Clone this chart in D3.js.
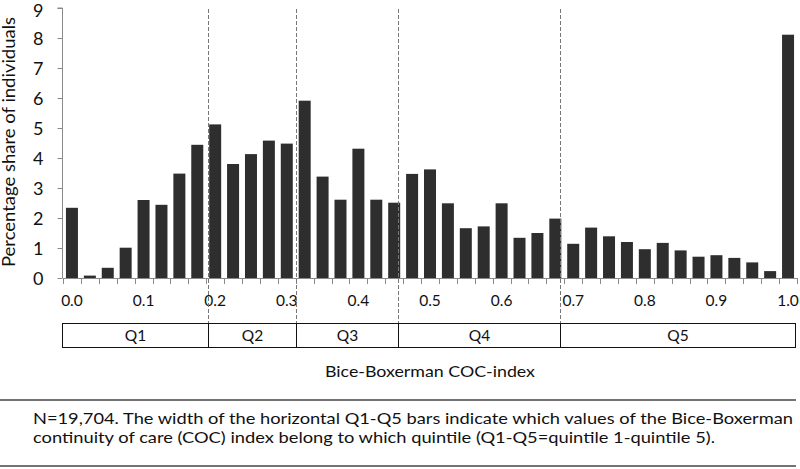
<!DOCTYPE html>
<html>
<head>
<meta charset="utf-8">
<script src="https://cdn.jsdelivr.net/npm/d3@7"></script>
<style>
  body { margin: 0; background: #fff; }
  svg { display: block; font-family: Lato, "Open Sans", sans-serif; }
</style>
</head>
<body>
<svg id="chart" width="800" height="469"></svg>
<script>
// ---- data ----
const categories = d3.range(41).map(i => +(i * 0.025).toFixed(3)); // COC-index bins 0.000 .. 1.000
const shares = [2.34, 0.08, 0.34, 1.01, 2.60, 2.44, 3.48, 4.44, 5.12, 3.80,
                4.13, 4.58, 4.48, 5.91, 3.38, 2.61, 4.31, 2.61, 2.51, 3.47,
                3.62, 2.49, 1.66, 1.72, 2.49, 1.34, 1.50, 1.98, 1.14, 1.68,
                1.39, 1.20, 0.96, 1.17, 0.92, 0.71, 0.76, 0.67, 0.52, 0.23, 8.11];
const xTickLabels = ["0.0", "0.1", "0.2", "0.3", "0.4", "0.5", "0.6", "0.7", "0.8", "0.9", "1.0"];
const yTicks = [0, 1, 2, 3, 4, 5, 6, 7, 8, 9];
const quintileCuts = [0.19, 0.313, 0.456, 0.682];
const quintileLabels = ["Q1", "Q2", "Q3", "Q4", "Q5"];
const xTitle = "Bice-Boxerman COC-index";
const yTitle = "Percentage share of individuals";
const noteLines = [
  "N=19,704. The width of the horizontal Q1-Q5 bars indicate which values of the Bice-Boxerman",
  "continuity of care (COC) index belong to which quintile (Q1-Q5=quintile 1-quintile 5)."
];

// ---- layout ----
const svg = d3.select("#chart");
const mLeft = 63, mRight = 797, mTop = 8, mBottom = 278;
const axisColor = "#8a8a8a";

const x = d3.scaleBand().domain(d3.range(categories.length)).range([mLeft, mRight])
  .paddingInner(0.33).paddingOuter(0.165);
const step = x.step();
const bw = x.bandwidth();
const xv = d3.scaleLinear().domain([0, 1])
  .range([x(0) + bw / 2, x(categories.length - 1) + bw / 2]);
const y = d3.scaleLinear().domain([0, 9]).range([mBottom, mTop]);

// bars
svg.append("g").selectAll("rect").data(shares).join("rect")
  .attr("x", (d, i) => x(i))
  .attr("y", d => y(d))
  .attr("width", bw)
  .attr("height", d => y(0) - y(d))
  .attr("fill", "#2e2e2e");

// y axis
const yAxis = svg.append("g").attr("transform", `translate(${mLeft - 0.5},0)`)
  .call(d3.axisLeft(y).tickValues(yTicks).tickSize(5).tickFormat(d3.format("d")));
yAxis.select(".domain").attr("stroke", axisColor).attr("d", `M-5,${y(9)}H0V${y(0)}`);
yAxis.selectAll(".tick line").attr("stroke", axisColor);
yAxis.selectAll(".tick text").attr("x", -19).attr("dy", "0.38em")
  .attr("y", d => d === 9 ? 2 : 0)
  .attr("font-size", 18)
  .attr("font-family", "Lato, sans-serif").attr("fill", "#111");

// x axis line + ticks at band boundaries
const gx = svg.append("g");
gx.append("line").attr("x1", mLeft).attr("x2", mRight).attr("y1", mBottom + 0.5).attr("y2", mBottom + 0.5)
  .attr("stroke", axisColor);
gx.selectAll("line.t").data(d3.range(categories.length + 1)).join("line").attr("class", "t")
  .attr("x1", i => Math.round(mLeft + i * step) + 0.5).attr("x2", i => Math.round(mLeft + i * step) + 0.5)
  .attr("y1", mBottom).attr("y2", mBottom + 6).attr("stroke", axisColor);
gx.selectAll("text").data(xTickLabels).join("text")
  .attr("x", (d, i) => xv(i / 10))
  .attr("y", 306)
  .attr("text-anchor", "middle").attr("font-size", 15.5).attr("fill", "#111")
  .text(d => d);

// quintile dashed lines
svg.append("g").selectAll("line").data(quintileCuts).join("line")
  .attr("x1", d => Math.round(xv(d)) + 0.5).attr("x2", d => Math.round(xv(d)) + 0.5)
  .attr("y1", 9).attr("y2", 323)
  .attr("stroke", "#777").attr("stroke-width", 1).attr("stroke-dasharray", "4,2");

// quintile boxes
const bounds = [0].concat(quintileCuts).concat([1]);
const boxL = mLeft - 0.5, boxR = mRight - 1.5;
const segs = quintileLabels.map((q, i) => ({
  q,
  x0: i === 0 ? boxL : Math.round(xv(bounds[i])) + 0.5,
  x1: i === quintileLabels.length - 1 ? boxR : Math.round(xv(bounds[i + 1])) + 0.5
}));
const gq = svg.append("g");
gq.selectAll("rect").data(segs).join("rect")
  .attr("x", d => d.x0).attr("y", 323.5).attr("width", d => d.x1 - d.x0).attr("height", 24)
  .attr("fill", "#fff").attr("stroke", "#111").attr("stroke-width", 1);
gq.selectAll("text").data(segs).join("text")
  .attr("x", d => (d.x0 + d.x1) / 2).attr("y", 341)
  .attr("text-anchor", "middle").attr("font-size", 15.5).attr("fill", "#111")
  .text(d => d.q);

// axis titles
svg.append("text").attr("x", 430).attr("y", 377).attr("text-anchor", "middle")
  .attr("font-size", 16).attr("fill", "#111")
  .attr("textLength", 210).attr("lengthAdjust", "spacingAndGlyphs").text(xTitle);
svg.append("text").attr("transform", "translate(15,142) rotate(-90)")
  .attr("text-anchor", "middle").attr("font-size", 16.5).attr("fill", "#111")
  .attr("textLength", 250).attr("lengthAdjust", "spacingAndGlyphs").text(yTitle);

// rules + note
svg.append("line").attr("x1", 0).attr("x2", 796).attr("y1", 400).attr("y2", 400)
  .attr("stroke", "#444").attr("stroke-width", 1.5);
svg.append("line").attr("x1", 0).attr("x2", 796).attr("y1", 466).attr("y2", 466)
  .attr("stroke", "#444").attr("stroke-width", 1.5);
const noteWidths = [760, 682];
svg.append("g").selectAll("text").data(noteLines).join("text")
  .attr("x", 33).attr("y", (d, i) => 424 + i * 19)
  .attr("font-size", 15).attr("fill", "#111")
  .attr("textLength", (d, i) => noteWidths[i]).attr("lengthAdjust", "spacingAndGlyphs")
  .text(d => d);
</script>
</body>
</html>
